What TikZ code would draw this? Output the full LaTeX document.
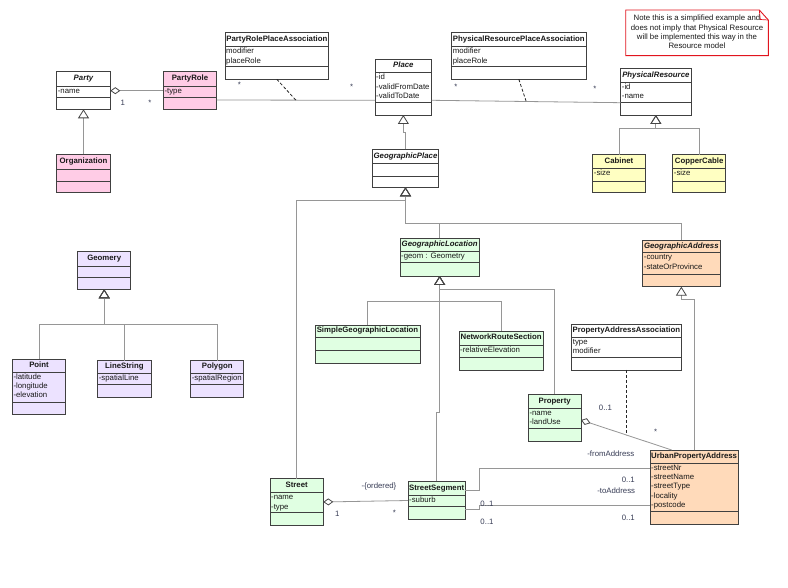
\documentclass[tikz,border=0pt]{standalone}
\usepackage{fontspec}
\setmainfont{Liberation Sans}
\usetikzlibrary{arrows.meta,calc}
\definecolor{pinkf}{RGB}{255,204,230}
\definecolor{yellowf}{RGB}{255,255,194}
\definecolor{lavf}{RGB}{236,226,255}
\definecolor{greenf}{RGB}{224,255,226}
\definecolor{orangef}{RGB}{255,218,186}
\definecolor{boxc}{RGB}{64,64,64}
\definecolor{linec}{RGB}{150,150,150}
\definecolor{tipc}{RGB}{70,70,70}
\definecolor{txtc}{RGB}{25,25,25}
\definecolor{multc}{RGB}{55,60,85}
\definecolor{notec}{RGB}{225,20,30}
\tikzset{
 clsbox/.style={draw=boxc, line width=0.9pt, fill=white, inner sep=0pt, outer sep=0pt},
 boxline/.style={draw=boxc, line width=0.9pt},
 clstitle/.style={font=\fontsize{7.8}{9.3}\selectfont\bfseries, text=txtc, inner sep=0pt, text height=5.6pt, text depth=1.6pt},
 attrs/.style={font=\fontsize{7.8}{9.3}\selectfont, text=txtc, inner sep=0pt, align=left, anchor=north west},
 gen/.style={draw=linec, line width=0.8pt, -{Triangle[open,length=9pt,width=11pt,color=tipc]}},
 assoc/.style={draw=linec, line width=0.8pt},
 agg/.style={draw=linec, line width=0.8pt, {Diamond[open,length=10pt,width=7pt,color=tipc]}-},
 dashc/.style={draw=black!85, line width=0.8pt, dash pattern=on 3pt off 2pt},
 mult/.style={font=\fontsize{7.8}{9.3}\selectfont, text=multc, inner sep=0pt, anchor=base},
 notebox/.style={draw=notec, line width=0.9pt, fill=white},
 notetext/.style={font=\fontsize{7.8}{9.1}\selectfont, text=txtc, align=center, inner sep=0pt},
}
% #1 name #2 style #3 x1 #4 y1 #5 x2 #6 y2 #7 sep1 #8 sep2 #9 title
\newcommand\umlclass[9]{%
 \node[clsbox,#2,minimum width={#5-#3},minimum height={#6-#4},anchor=north west] (#1) at (#3,#4) {};
 \draw[boxline] (#3,#7) -- (#5,#7) (#3,#8) -- (#5,#8);
 \node[clstitle] (#1-t) at ({(#3+#5)/2},{(#4+#7)/2}) {#9};}
\newcommand\umlattr[3]{\node[attrs] (#1-a) at ($(#1.west |- 0,#2)+(1,0.3)$) {\strut#3};}
\begin{document}
\begin{tikzpicture}[x=1pt,y=-1pt]
\useasboundingbox (0,0) rectangle (788,588);
\fill[white] (0,0) rectangle (788,588);

% ---- classes
\umlclass{party}{}{56.7}{71.3}{110.3}{109.3}{86}{97.3}{\itshape Party}
\umlattr{party}{86}{-name}
\umlclass{partyrole}{fill=pinkf}{163.3}{71.3}{216.7}{109.3}{86}{97.3}{PartyRole}
\umlattr{partyrole}{86}{-type}
\umlclass{org}{fill=pinkf}{56.7}{154.3}{110.3}{192.7}{169}{181}{Organization}
\umlclass{prpa}{}{225}{32.3}{328.7}{79.3}{46.7}{66.7}{PartyRolePlaceAssociation}
\umlattr{prpa}{46.7}{modifier\\placeRole}
\umlclass{place}{}{375}{59}{431.7}{115}{72.7}{102.3}{\itshape Place}
\umlattr{place}{72.7}{-id\\-validFromDate\\-validToDate}
\umlclass{phrpa}{}{451.7}{32.3}{586}{79.3}{46.7}{66.7}{PhysicalResourcePlaceAssociation}
\umlattr{phrpa}{46.7}{modifier\\placeRole}
\umlclass{physres}{}{620.7}{68.3}{691}{115}{82.3}{102.7}{\itshape PhysicalResource}
\umlattr{physres}{82.3}{-id\\-name}
\umlclass{cabinet}{fill=yellowf}{592.7}{154.7}{645.3}{192.7}{168.3}{181}{Cabinet}
\umlattr{cabinet}{168.3}{-size}
\umlclass{copper}{fill=yellowf}{672.7}{154.7}{725.7}{192.7}{168.3}{181}{CopperCable}
\umlattr{copper}{168.3}{-size}
\umlclass{gp}{}{372.7}{149.3}{438.3}{187.3}{163.3}{176}{\itshape GeographicPlace}
\umlclass{geoloc}{fill=greenf}{400}{238.3}{479.3}{276}{251}{262.7}{\itshape GeographicLocation}
\umlattr{geoloc}{251}{-geom : Geometry}
\umlclass{geoaddr}{fill=orangef}{642.7}{240}{720}{286.7}{252.7}{274}{\itshape GeographicAddress}
\umlattr{geoaddr}{252.7}{-country\\-stateOrProvince}
\umlclass{geomery}{fill=lavf}{77.7}{251.7}{130.7}{289.3}{266}{277.7}{Geomery}
\umlclass{point}{fill=lavf}{12.3}{359}{65.7}{414}{372.3}{402.3}{Point}
\umlattr{point}{372.3}{-latitude\\-longitude\\-elevation}
\umlclass{linestring}{fill=lavf}{97.7}{360.7}{151}{397.3}{373.3}{384.6}{LineString}
\umlattr{linestring}{373.3}{-spatialLine}
\umlclass{polygon}{fill=lavf}{190.7}{360.7}{243.7}{397.3}{373.3}{384.6}{Polygon}
\umlattr{polygon}{373.3}{-spatialRegion}
\umlclass{sgl}{fill=greenf}{315}{325}{420}{363.3}{337}{350}{SimpleGeographicLocation}
\umlclass{nrs}{fill=greenf}{459}{331}{543.3}{370}{345}{357.3}{NetworkRouteSection}
\umlattr{nrs}{345}{-relativeElevation}
\umlclass{paa}{}{571.7}{324}{681}{370}{337.3}{357.3}{PropertyAddressAssociation}
\umlattr{paa}{337.3}{type\\modifier}
\umlclass{property}{fill=greenf}{528.3}{394}{581}{441}{408.3}{428.3}{Property}
\umlattr{property}{408.3}{-name\\-landUse}
\umlclass{street}{fill=greenf}{270}{478.7}{323.3}{525}{492.7}{512.7}{Street}
\umlattr{street}{492.7}{-name\\-type}
\umlclass{ss}{fill=greenf}{408}{481}{465.3}{519}{495.3}{506.7}{StreetSegment}
\umlattr{ss}{495.3}{-suburb}
\umlclass{upa}{fill=orangef}{650}{450}{738.3}{524.3}{463.3}{511.7}{UrbanPropertyAddress}
\umlattr{upa}{463.3}{-streetNr\\-streetName\\-streetType\\-locality\\-postcode}

% ---- note
\draw[notebox] (625.7,10) -- (759.3,10) -- (768.3,20) -- (768.3,55.7) -- (625.7,55.7) -- cycle;
\draw[draw=notec, line width=0.7pt] (759.3,10) -- (760.3,19.5) -- (768.3,20);
\node[notetext] (note) at (697,31.8) {Note this is a simplified example and\\does not imply that Physical Resource\\will be implemented this way in the\\Resource model};

% ---- associations
\draw[agg] (party.east |- 0,90.7) -- (partyrole.west |- 0,90.7);
\coordinate (a1) at (partyrole.east |- 0,100);
\coordinate (b1) at (place.west |- 0,100.3);
\draw[assoc] (a1) -- (b1);
\coordinate (m1) at ($(a1)!0.5!(b1)$);
\draw[dashc] (prpa.south) -- (m1);
\coordinate (a2) at (place.east |- 0,100.3);
\coordinate (b2) at (physres.west |- 0,102.7);
\draw[assoc] (a2) -- (b2);
\coordinate (m2) at ($(a2)!0.5!(b2)$);
\draw[dashc] (phrpa.south) -- (m2);

\draw[agg] (street.east |- 0,502) -- (ss.west |- 0,500.5);
\draw[assoc] (ss.east |- 0,490) -- ++(13.7,0) |- (upa.west |- 0,468.3);
\draw[assoc] (ss.east |- 0,509) -- ++(13.7,0) |- (upa.west |- 0,505.7);
\coordinate (a3) at (property.east |- 0,420);
\coordinate (b3) at (upa.north -| 671.7,0);
\draw[agg] (a3) -- (b3);
\coordinate (m3) at ($(a3)!0.5!(b3)$);
\draw[dashc] (paa.south) -- (paa.south |- m3);

% ---- generalizations
\draw[gen] (org.north) -- (party.south);
\draw[gen] (cabinet.north) |- ($(physres.south)+(0,13.3)$) -| (physres.south);
\draw[gen] (copper.north) |- ($(physres.south)+(0,13.3)$) -| (physres.south);
\draw[gen] (gp.north) -- ++(0,-17) -| (place.south);
\draw[gen] (street.north) |- ($(gp.south)+(0,13.4)$) -- (gp.south);
\draw[gen] (geoloc.north) |- ($(gp.south)+(0,36)$) -- (gp.south);
\draw[gen] (geoaddr.north) |- ($(gp.south)+(0,36)$) -- (gp.south);
\draw[gen] (sgl.north) |- ($(geoloc.south)+(0,25)$) -- (geoloc.south);
\draw[gen] (nrs.north) |- ($(geoloc.south)+(0,25)$) -- (geoloc.south);
\draw[gen] (property.north) |- ($(geoloc.south)+(0,13)$) -- (geoloc.south);
\draw[gen] (ss.north) -- ++(0,-69) -| (geoloc.south);
\draw[gen] (upa.north) |- ($(geoaddr.south)+(0,12.6)$) -| (geoaddr.south);
\draw[gen] (point.north) |- ($(geomery.south)+(0,34.7)$) -| (geomery.south);
\draw[gen] (linestring.north) |- ($(geomery.south)+(0,34.7)$) -| (geomery.south);
\draw[gen] (polygon.north) |- ($(geomery.south)+(0,34.7)$) -| (geomery.south);

% ---- multiplicities and role names
\node[mult] (l1) at (122.7,105.5) {1};
\node[mult] (l2) at (150,105.2) {*};
\node[mult] (l3) at (239.3,87.8) {*};
\node[mult] (l4) at (351.7,89.5) {*};
\node[mult] (l5) at (456,89.5) {*};
\node[mult] (l6) at (595,91.2) {*};
\node[mult] (l7) at (379,488.8) {-\{ordered\}};
\node[mult] (l8) at (337.3,516.8) {1};
\node[mult] (l9) at (394.3,515.2) {*};
\node[mult] (l10) at (487,506.1) {0..1};
\node[mult] (l11) at (487,524.5) {0..1};
\node[mult] (l12) at (605.5,410.5) {0..1};
\node[mult] (l13) at (655.7,434.5) {*};
\node[mult] (l14) at (610.8,456.8) {-fromAddress};
\node[mult] (l15) at (628.3,482.8) {0..1};
\node[mult] (l16) at (616.2,493.8) {-toAddress};
\node[mult] (l17) at (628.3,520.1) {0..1};
\end{tikzpicture}
\end{document}
